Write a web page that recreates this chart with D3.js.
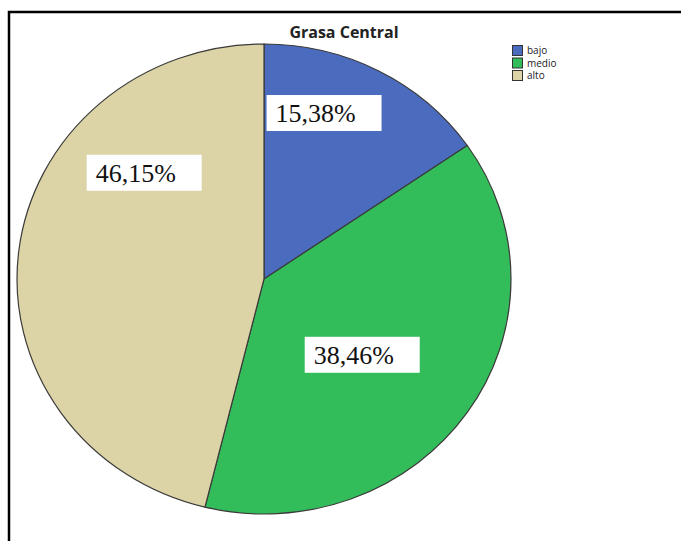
<!DOCTYPE html>
<html>
<head>
<meta charset="utf-8">
<script src="https://cdn.jsdelivr.net/npm/d3@7"></script>
<style>
  html, body { margin: 0; padding: 0; background: #fff; }
  svg { display: block; }
</style>
</head>
<body>
<svg id="chart" width="681" height="541"></svg>
<script>
// Grasa Central: share of cases per category
const categories = ["bajo", "medio", "alto"];
const percents = [15.38, 38.46, 46.15];
const colors = ["#4b6cbe", "#33bd5a", "#dcd4a6"];

// label placement inside each slice: fraction of slice sweep and radius fraction
const labelAngleFrac = [0.343, 0.532, 0.717];
const labelRadiusFrac = [0.747, 0.512, 0.663];

const svg = d3.select("#chart");
const W = 681, H = 541;

// frame lines (top and left)
svg.append("path")
  .attr("d", `M9,${H} L9,12 L${W},12`)
  .attr("fill", "none")
  .attr("stroke", "#000")
  .attr("stroke-width", 2.5);

// title
svg.append("text")
  .attr("x", 344).attr("y", 38)
  .attr("text-anchor", "middle")
  .attr("font-family", "Open Sans, sans-serif")
  .attr("font-weight", "bold")
  .attr("font-size", 16)
  .attr("fill", "#222")
  .text("Grasa Central");

// pie, slightly elliptical
const cx = 264, cy = 279, rx = 247, ry = 235;
const pie = d3.pie().sort(null).value(d => d.v);
const data = categories.map((c, i) => ({ c, v: percents[i], i }));
const arcs = pie(data);
const arc = d3.arc().innerRadius(0).outerRadius(1);

const g = svg.append("g")
  .attr("transform", `translate(${cx},${cy}) scale(${rx},${ry})`);

g.selectAll("path.slice")
  .data(arcs)
  .join("path")
  .attr("class", "slice")
  .attr("d", arc)
  .attr("fill", d => colors[d.data.i])
  .attr("stroke", "#3a3a3a")
  .attr("stroke-width", 1.2)
  .attr("vector-effect", "non-scaling-stroke");

// value labels in white boxes
const fmt = v => v.toFixed(2).replace(".", ",") + "%";
const lab = svg.append("g");
arcs.forEach((d, k) => {
  const a = d.startAngle + (d.endAngle - d.startAngle) * labelAngleFrac[k];
  const r = labelRadiusFrac[k];
  const x = cx + Math.sin(a) * r * rx;
  const y = cy - Math.cos(a) * r * ry;
  const bw = 115, bh = 36;
  lab.append("rect")
    .attr("x", x - bw / 2).attr("y", y - bh / 2)
    .attr("width", bw).attr("height", bh)
    .attr("fill", "#fff");
  lab.append("text")
    .attr("x", x - bw / 2 + 9).attr("y", y + 9)
    .attr("font-family", "Liberation Serif, serif")
    .attr("font-size", 26)
    .attr("fill", "#111")
    .text(fmt(d.data.v));
});

// legend
const lg = svg.append("g").attr("transform", "translate(512,45)");
categories.forEach((c, i) => {
  const row = lg.append("g").attr("transform", `translate(0,${i * 12.5})`);
  row.append("rect")
    .attr("x", 0.5).attr("y", 0.5)
    .attr("width", 10).attr("height", 10)
    .attr("fill", colors[i])
    .attr("stroke", "#333")
    .attr("stroke-width", 1);
  row.append("text")
    .attr("x", 15).attr("y", 9)
    .attr("font-family", "Open Sans, sans-serif")
    .attr("font-size", 10)
    .attr("fill", "#222")
    .text(c);
});
</script>
</body>
</html>
